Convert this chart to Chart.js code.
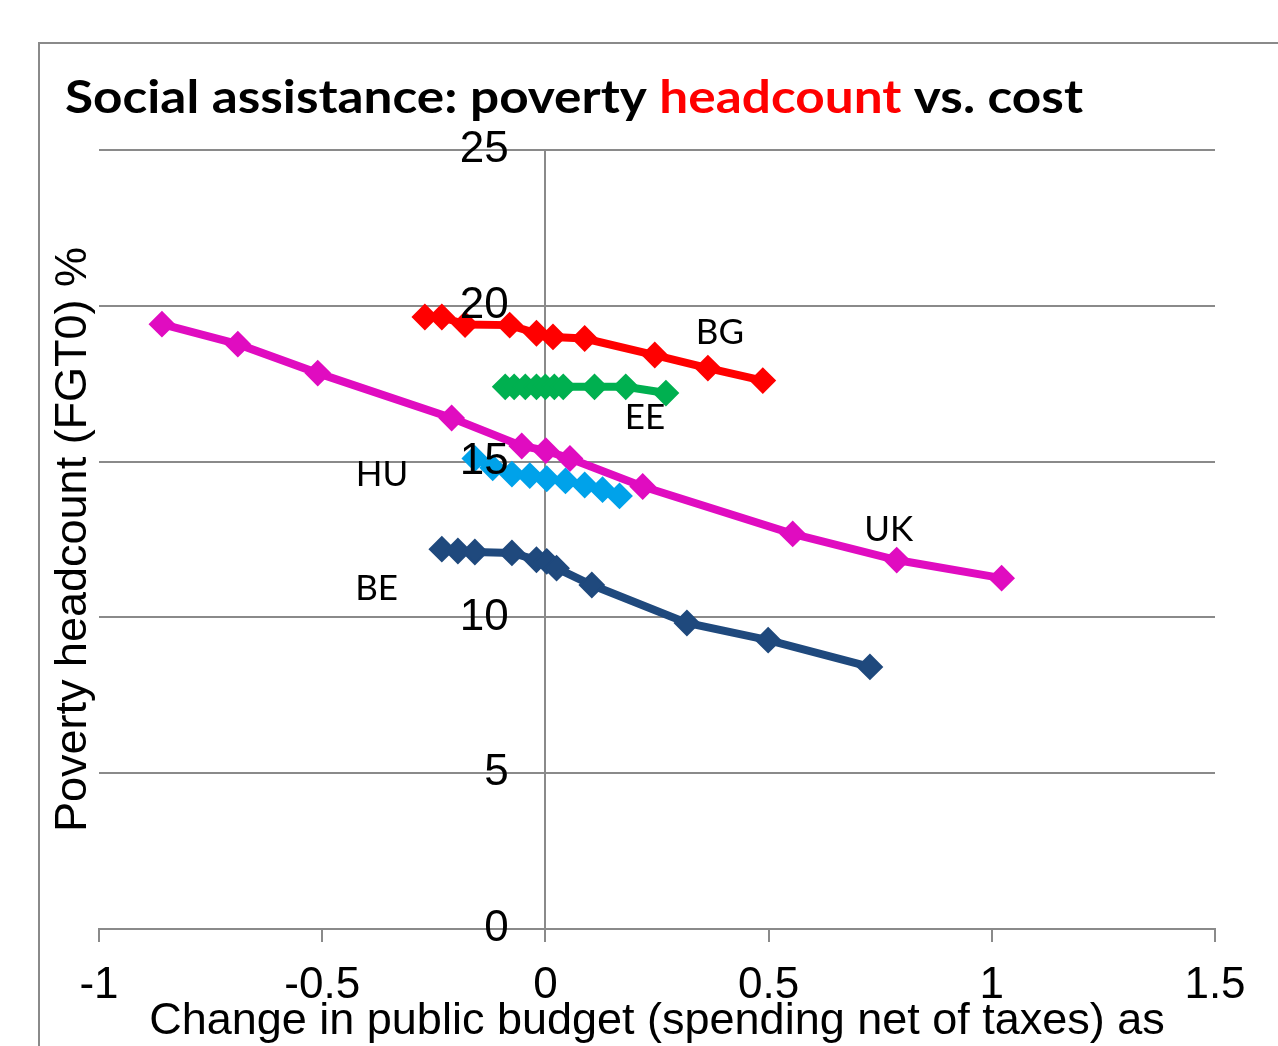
<!DOCTYPE html>
<html>
<head>
<meta charset="utf-8">
<script src="https://cdn.jsdelivr.net/npm/chart.js@4.4.1/dist/chart.umd.min.js"></script>
<style>
html,body{margin:0;padding:0;background:#fff;overflow:hidden}
#wrap{position:relative;width:1278px;height:1046px}
canvas{display:block}
</style>
</head>
<body>
<div id="wrap"><canvas id="c" width="1278" height="1046"></canvas></div>
<script>
// ---- Data ----
const bgX = [-0.27, -0.232, -0.18, -0.08, -0.02, 0.017, 0.088, 0.245, 0.364, 0.487];
const bgY = [19.64, 19.64, 19.4, 19.38, 19.12, 19.0, 18.95, 18.42, 18.0, 17.6];

const eeX = [-0.09, -0.07, -0.045, -0.02, 0.0, 0.02, 0.04, 0.11, 0.18, 0.27];
const eeY = [17.4, 17.4, 17.4, 17.4, 17.4, 17.4, 17.4, 17.4, 17.4, 17.2];

const huX = [-0.158, -0.118, -0.075, -0.035, 0.003, 0.045, 0.088, 0.128, 0.166];
const huY = [15.1, 14.8, 14.6, 14.55, 14.45, 14.38, 14.25, 14.1, 13.9];

const ukX = [-0.859, -0.689, -0.51, -0.21, -0.053, 0.001, 0.055, 0.218, 0.554, 0.787, 1.022];
const ukY = [19.41, 18.77, 17.84, 16.4, 15.5, 15.35, 15.1, 14.2, 12.68, 11.84, 11.26];

const beX = [-0.232, -0.196, -0.158, -0.075, -0.02, 0.003, 0.025, 0.104, 0.317, 0.499, 0.727];
const beY = [12.19, 12.13, 12.1, 12.07, 11.85, 11.8, 11.58, 11.04, 9.82, 9.27, 8.41];

const seriesNames = ['BE', 'BG', 'EE', 'HU', 'UK'];
const labelX = [-0.378, 0.391, 0.223, -0.366, 0.769];
const labelY = [11.0, 19.19, 16.46, 14.63, 12.87];

const xTickStep = 0.5;
const yTickStep = 5;
const titleParts = ['Social assistance: poverty ', 'headcount', ' vs. cost'];
const xTitle = 'Change in public budget (spending net of taxes) as';
const yTitle = 'Poverty headcount (FGT0) %';

// ---- Build ----
function pts(xs, ys) { return xs.map((x, i) => ({x: x, y: ys[i]})); }
const colors = {BE: '#1F497D', BG: '#FF0000', EE: '#00B050', HU: '#00A2EA', UK: '#E00CC0'};
const seriesData = {BE: pts(beX, beY), BG: pts(bgX, bgY), EE: pts(eeX, eeY), HU: pts(huX, huY), UK: pts(ukX, ukY)};

const datasets = seriesNames.map(n => ({
  label: n,
  data: seriesData[n],
  showLine: true,
  borderColor: colors[n],
  backgroundColor: colors[n],
  borderWidth: 8,
  pointStyle: 'rectRot',
  pointRadius: 12,
  pointBorderWidth: 2,
  pointBorderColor: colors[n],
  pointBackgroundColor: colors[n],
  pointHoverRadius: 12,
  tension: 0
}));

const GRAY = '#8A8A8A';
const axisFont = {family: "'Liberation Sans', Arial, sans-serif", size: 44};
const titleFont = {family: "'Liberation Sans', Arial, sans-serif", size: 45};

function fmt(v) { return String(Math.round(v * 100) / 100); }

const framePlugin = {
  id: 'frame',
  beforeDraw(chart) {
    const ctx = chart.ctx;
    ctx.save();
    ctx.fillStyle = '#fff';
    ctx.fillRect(0, 0, chart.width, chart.height);
    ctx.strokeStyle = GRAY;
    ctx.lineWidth = 2;
    ctx.beginPath();
    ctx.moveTo(39, chart.height + 2);
    ctx.lineTo(39, 43);
    ctx.lineTo(chart.width + 2, 43);
    ctx.stroke();
    ctx.restore();
  },
  afterDraw(chart) {
    const ctx = chart.ctx;
    ctx.save();
    ctx.font = "bold 45px Lato, 'Open Sans', sans-serif";
    ctx.textBaseline = 'alphabetic';
    ctx.textAlign = 'left';
    const total = titleParts.reduce((s, t) => s + ctx.measureText(t).width, 0);
    const targetW = 1018;
    ctx.translate(65, 113);
    ctx.scale(targetW / total, 1);
    let x = 0;
    titleParts.forEach((t, i) => {
      ctx.fillStyle = i === 1 ? '#FF0000' : '#000000';
      ctx.fillText(t, x, 0);
      x += ctx.measureText(t).width;
    });
    ctx.restore();
  }
};

const labelPlugin = {
  id: 'seriesLabels',
  afterDatasetsDraw(chart) {
    const ctx = chart.ctx;
    const xs = chart.scales.x, ys = chart.scales.y;
    ctx.save();
    ctx.font = "35px Lato, 'Open Sans', sans-serif";
    ctx.fillStyle = '#000';
    ctx.textAlign = 'center';
    ctx.textBaseline = 'middle';
    seriesNames.forEach((n, i) => {
      ctx.fillText(n, xs.getPixelForValue(labelX[i]), ys.getPixelForValue(labelY[i]) + 2);
    });
    ctx.restore();
  }
};

new Chart(document.getElementById('c'), {
  type: 'scatter',
  data: {datasets},
  options: {
    responsive: false,
    devicePixelRatio: 1,
    animation: false,
    events: [],
    layout: {padding: {left: 39, right: 63, top: 150, bottom: 0}},
    plugins: {legend: {display: false}, tooltip: {enabled: false}, title: {display: false}},
    scales: {
      x: {
        type: 'linear',
        position: 'bottom',
        min: -1,
        max: 1.5,
        ticks: {stepSize: xTickStep, font: axisFont, color: '#000', padding: 17, maxRotation: 0, autoSkip: false,
                callback: v => fmt(v)},
        grid: {drawOnChartArea: false, drawTicks: true, tickLength: 13, tickColor: GRAY, color: GRAY, lineWidth: 2},
        border: {display: true, color: GRAY, width: 2},
        title: {display: true, text: xTitle, font: titleFont, color: '#000', padding: {top: 0, bottom: -3}},
        afterFit(scale) { scale.height = 117; }
      },
      y: {
        type: 'linear',
        position: {x: 0},
        min: 0,
        max: 25,
        ticks: {stepSize: yTickStep, font: axisFont, color: '#000', padding: 32, z: 1,
                callback: v => fmt(v) + '   '},
        grid: {color: GRAY, lineWidth: 2, tickLength: 8, tickColor: GRAY},
        border: {display: true, color: GRAY, width: 2}
      },
      yTitle: {
        type: 'linear',
        position: 'left',
        display: true,
        ticks: {display: false},
        grid: {display: false, drawTicks: false},
        border: {display: false},
        title: {display: true, text: yTitle, font: titleFont, color: '#000', padding: {top: 8, bottom: 0}},
        afterFit(scale) { scale.width = 60; }
      }
    }
  },
  plugins: [framePlugin, labelPlugin]
});
</script>
</body>
</html>
